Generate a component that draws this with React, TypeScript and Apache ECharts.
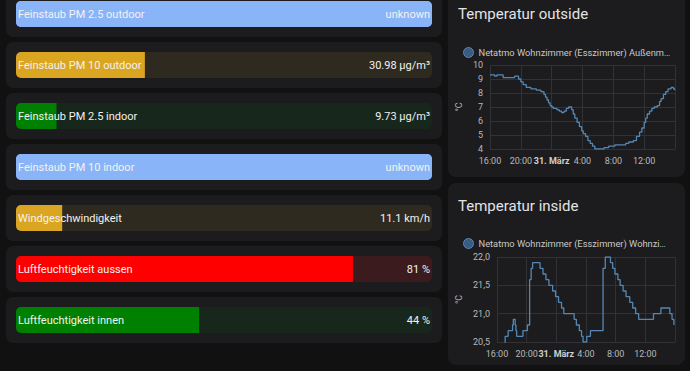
import React, { useEffect, useRef } from "react";
import * as echarts from "echarts";

// ---------- Bar cards (left column) ----------
const barNames = [
  "Feinstaub PM 2.5 outdoor",
  "Feinstaub PM 10 outdoor",
  "Feinstaub PM 2.5 indoor",
  "Feinstaub PM 10 indoor",
  "Windgeschwindigkeit",
  "Luftfeuchtigkeit aussen",
  "Luftfeuchtigkeit innen",
];
const barValues: (number | null)[] = [null, 30.98, 9.73, null, 11.1, 81, 44];
const barUnits = ["µg/m³", "µg/m³", "µg/m³", "µg/m³", "km/h", "%", "%"];
const barColors = ["#8ab4f8", "#daa520", "#008000", "#8ab4f8", "#daa520", "#ff0000", "#008000"];
const trackColors = ["#8ab4f8", "#2f2a20", "#17271b", "#8ab4f8", "#2f2a20", "#3b1b1d", "#17271b"];
const barMax = 100;

// ---------- Temperature outside (hours since 30. März 16:00) ----------
const outsideHours = [
  0, 0.6, 0.9, 1.7, 3.2, 3.7, 4.0, 4.3, 4.7, 5.3, 6.0, 6.6, 7.0, 7.2, 7.4, 7.6, 7.8, 8.0, 8.2, 8.7,
  9.0, 9.3, 9.6, 9.9, 10.2, 10.6, 10.8, 11.0, 11.3, 11.6, 11.9, 12.1, 12.4, 12.7, 13.0, 13.3, 13.6,
  14.8, 15.4, 16.2, 17.6, 18.0, 18.6, 19.0, 19.4, 19.7, 20.0, 20.2, 20.4, 20.7, 21.0, 21.3, 21.7,
  22.0, 22.2, 22.5, 22.8, 23.1, 23.5, 23.8, 23.95,
];
const outsideTemps = [
  9.3, 9.2, 9.3, 9.1, 9.2, 9.0, 8.8, 8.6, 8.4, 8.3, 8.2, 8.1, 7.9, 7.7, 7.5, 7.3, 7.1, 7.0, 6.9, 6.8,
  6.7, 6.6, 6.7, 6.9, 7.0, 6.8, 6.5, 6.2, 5.9, 5.6, 5.3, 5.1, 4.9, 4.6, 4.4, 4.2, 4.0,
  4.1, 4.2, 4.3, 4.4, 4.5, 4.6, 4.9, 5.2, 5.5, 5.9, 6.2, 6.5, 6.7, 6.9, 7.0, 7.1,
  7.4, 7.6, 7.9, 8.1, 8.3, 8.4, 8.3, 8.2,
];

// ---------- Temperature inside ----------
const insideHours = [
  0, 1.1, 1.5, 2.1, 2.2, 2.45, 2.55, 2.65, 3.5, 4.1, 4.4, 4.6, 4.8, 5.8, 6.2, 6.6, 7.0, 7.5, 7.9,
  8.3, 8.7, 9.0, 10.4, 10.7, 11.1, 11.4, 11.6, 12.1, 12.6, 14.3, 14.6, 15.3, 15.6, 15.9, 16.3,
  16.6, 17.0, 17.4, 17.9, 18.3, 18.7, 19.1, 21.1, 22.1, 23.3, 23.6, 23.85,
];
const insideTemps = [
  20.4, 20.6, 20.7, 20.8, 20.9, 20.8, 20.7, 20.6, 20.7, 20.8, 21.6, 21.8, 21.9, 21.8, 21.7, 21.6,
  21.5, 21.4, 21.3, 21.2, 21.1, 21.0, 20.9, 20.8, 20.7, 20.6, 20.5, 20.6, 20.7, 21.8, 22.0, 21.9,
  21.8, 21.7, 21.6, 21.5, 21.4, 21.3, 21.2, 21.1, 21.0, 20.9, 21.0, 21.1, 21.0, 20.9, 20.8,
];

const outsideName = "Netatmo Wohnzimmer (Esszimmer) Außenmodul Temperatur";
const insideName = "Netatmo Wohnzimmer (Esszimmer) Wohnzimmer Temperatur";
const titles = ["Temperatur outside", "Temperatur inside"];
const dayLabel = "31. März";

const HOUR = 3600 * 1000;
const START = Date.UTC(2024, 2, 30, 16, 0, 0);

export default function App() {
  const ref = useRef<HTMLDivElement>(null);

  useEffect(() => {
    if (!ref.current) return;
    const chart = echarts.init(ref.current, undefined, { renderer: "svg" });

    const font = "Roboto";
    const gridColor = "#303235";
    const labelColor = "#b8b8b8";
    const lineColor = "#5587b4";
    const barFont = 11;

    const firstBarCenter = 14;
    const barStep = 51;

    const cards: any[] = barNames.map((_, i) => ({
      type: "rect",
      z: -1,
      shape: { x: 6, y: firstBarCenter + barStep * i - 23, width: 436, height: 46, r: 7 },
      style: { fill: "#1c1c1e" },
      silent: true,
    }));
    cards.push(
      { type: "rect", z: -1, silent: true, shape: { x: 448, y: -12, width: 237, height: 189, r: 8 }, style: { fill: "#1c1c1e" } },
      { type: "rect", z: -1, silent: true, shape: { x: 448, y: 183, width: 237, height: 182, r: 8 }, style: { fill: "#1c1c1e" } }
    );

    const valueText = (i: number) => {
      const v = barValues[i];
      if (v === null) return "unknown";
      return `${v} ${barUnits[i]}`;
    };

    const xFormatter = (v: number) => {
      const h = Math.round((v - START) / HOUR + 16) % 24;
      if (h === 0) return `{b|${dayLabel}}`;
      return `${h}:00`;
    };

    const xAxisCommon = (gridIndex: number) => ({
      type: "value",
      gridIndex,
      min: START,
      max: START + 24 * HOUR,
      interval: 4 * HOUR,
      axisLine: { show: false },
      axisTick: { show: false },
      splitLine: { show: true, lineStyle: { color: gridColor, width: 1 } },
      axisLabel: {
        color: labelColor,
        fontSize: 9,
        fontFamily: font,
        margin: 7,
        showMaxLabel: false,
        formatter: xFormatter,
        rich: { b: { fontWeight: "bold", color: "#d0d0d0", fontSize: 9, fontFamily: font } },
      },
    });

    const legendText = { color: "#c8c8c8", fontSize: 9.3, fontFamily: font, width: 194, overflow: "truncate", ellipsis: "…" };

    const option: any = {
      animation: false,
      backgroundColor: "#111111",
      textStyle: { fontFamily: font },
      graphic: cards,
      title: [
        { text: titles[0], left: 458, top: 6, padding: 0, textStyle: { color: "#e3e3e3", fontSize: 15, fontWeight: "normal", fontFamily: font } },
        { text: titles[1], left: 458, top: 198, padding: 0, textStyle: { color: "#e3e3e3", fontSize: 15, fontWeight: "normal", fontFamily: font } },
      ],
      legend: [
        {
          left: 463, top: 47, padding: 0, icon: "circle", itemWidth: 10, itemHeight: 10, selectedMode: false,
          textStyle: legendText,
          data: [{ name: outsideName, itemStyle: { color: "#3b5c80", borderColor: lineColor, borderWidth: 1 } }],
        },
        {
          left: 463, top: 238, padding: 0, icon: "circle", itemWidth: 10, itemHeight: 10, selectedMode: false,
          textStyle: legendText,
          data: [{ name: insideName, itemStyle: { color: "#3b5c80", borderColor: lineColor, borderWidth: 1 } }],
        },
      ],
      grid: [
        { left: 16, top: firstBarCenter, width: 416, height: barStep * (barNames.length - 1) },
        { left: 490, top: 65, width: 185, height: 84 },
        { left: 497, top: 257, width: 178, height: 85 },
      ],
      xAxis: [
        { type: "value", gridIndex: 0, min: 0, max: barMax, show: false },
        xAxisCommon(1),
        xAxisCommon(2),
      ],
      yAxis: [
        { type: "category", gridIndex: 0, data: barNames, inverse: true, boundaryGap: false, show: false },
        {
          type: "value", gridIndex: 1, min: 4, max: 10, interval: 1,
          name: "°C", nameLocation: "middle", nameGap: 27, nameRotate: 90,
          nameTextStyle: { color: labelColor, fontSize: 9, fontFamily: font },
          axisLine: { show: false }, axisTick: { show: false },
          axisLabel: { color: labelColor, fontSize: 9, fontFamily: font, margin: 7 },
          splitLine: { lineStyle: { color: gridColor } },
        },
        {
          type: "value", gridIndex: 2, min: 20.5, max: 22, interval: 0.5,
          name: "°C", nameLocation: "middle", nameGap: 34, nameRotate: 90,
          nameTextStyle: { color: labelColor, fontSize: 9, fontFamily: font },
          axisLine: { show: false }, axisTick: { show: false },
          axisLabel: {
            color: labelColor, fontSize: 9, fontFamily: font, margin: 7,
            formatter: (v: number) => v.toFixed(1).replace(".", ","),
          },
          splitLine: { lineStyle: { color: gridColor } },
        },
      ],
      series: [
        {
          type: "bar", name: "track", xAxisIndex: 0, yAxisIndex: 0, barWidth: 26, barGap: "-100%", clip: false, silent: true,
          data: barNames.map((_, i) => ({ value: barMax, itemStyle: { color: trackColors[i], borderRadius: 5 } })),
        },
        {
          type: "bar", name: "fill", xAxisIndex: 0, yAxisIndex: 0, barWidth: 26, barGap: "-100%", clip: false, silent: true,
          data: barValues.map((v, i) => ({
            value: v === null ? barMax : v,
            itemStyle: { color: barColors[i], borderRadius: v === null || v >= barMax ? 5 : [5, 0, 0, 5] },
          })),
        },
        {
          type: "bar", name: "labels", xAxisIndex: 0, yAxisIndex: 0, barWidth: 26, barGap: "-100%", clip: false, silent: true, z: 5,
          data: barNames.map(() => ({ value: barMax, itemStyle: { color: "rgba(0,0,0,0)" } })),
          label: {
            show: true,
            position: "insideLeft",
            distance: 2,
            formatter: (p: any) => `{n|${barNames[p.dataIndex]}}{v|${valueText(p.dataIndex)}}`,
            rich: {
              n: { width: 300, align: "left", color: "#f2f2f2", fontSize: barFont, fontFamily: font },
              v: { width: 112, align: "right", color: "#f2f2f2", fontSize: barFont, fontFamily: font },
            },
          },
        },
        {
          type: "line", name: outsideName, xAxisIndex: 1, yAxisIndex: 1, step: "end", showSymbol: false, symbol: "none",
          lineStyle: { color: lineColor, width: 1.3 }, itemStyle: { color: lineColor },
          data: outsideHours.map((h, i) => [START + h * HOUR, outsideTemps[i]]),
        },
        {
          type: "line", name: insideName, xAxisIndex: 2, yAxisIndex: 2, step: "end", showSymbol: false, symbol: "none",
          lineStyle: { color: lineColor, width: 1.3 }, itemStyle: { color: lineColor },
          data: insideHours.map((h, i) => [START + h * HOUR, insideTemps[i]]),
        },
      ],
    };

    chart.setOption(option);
    return () => chart.dispose();
  }, []);

  return <div ref={ref} style={{ position: "absolute", left: 0, top: 0, width: 690, height: 371 }} />;
}
